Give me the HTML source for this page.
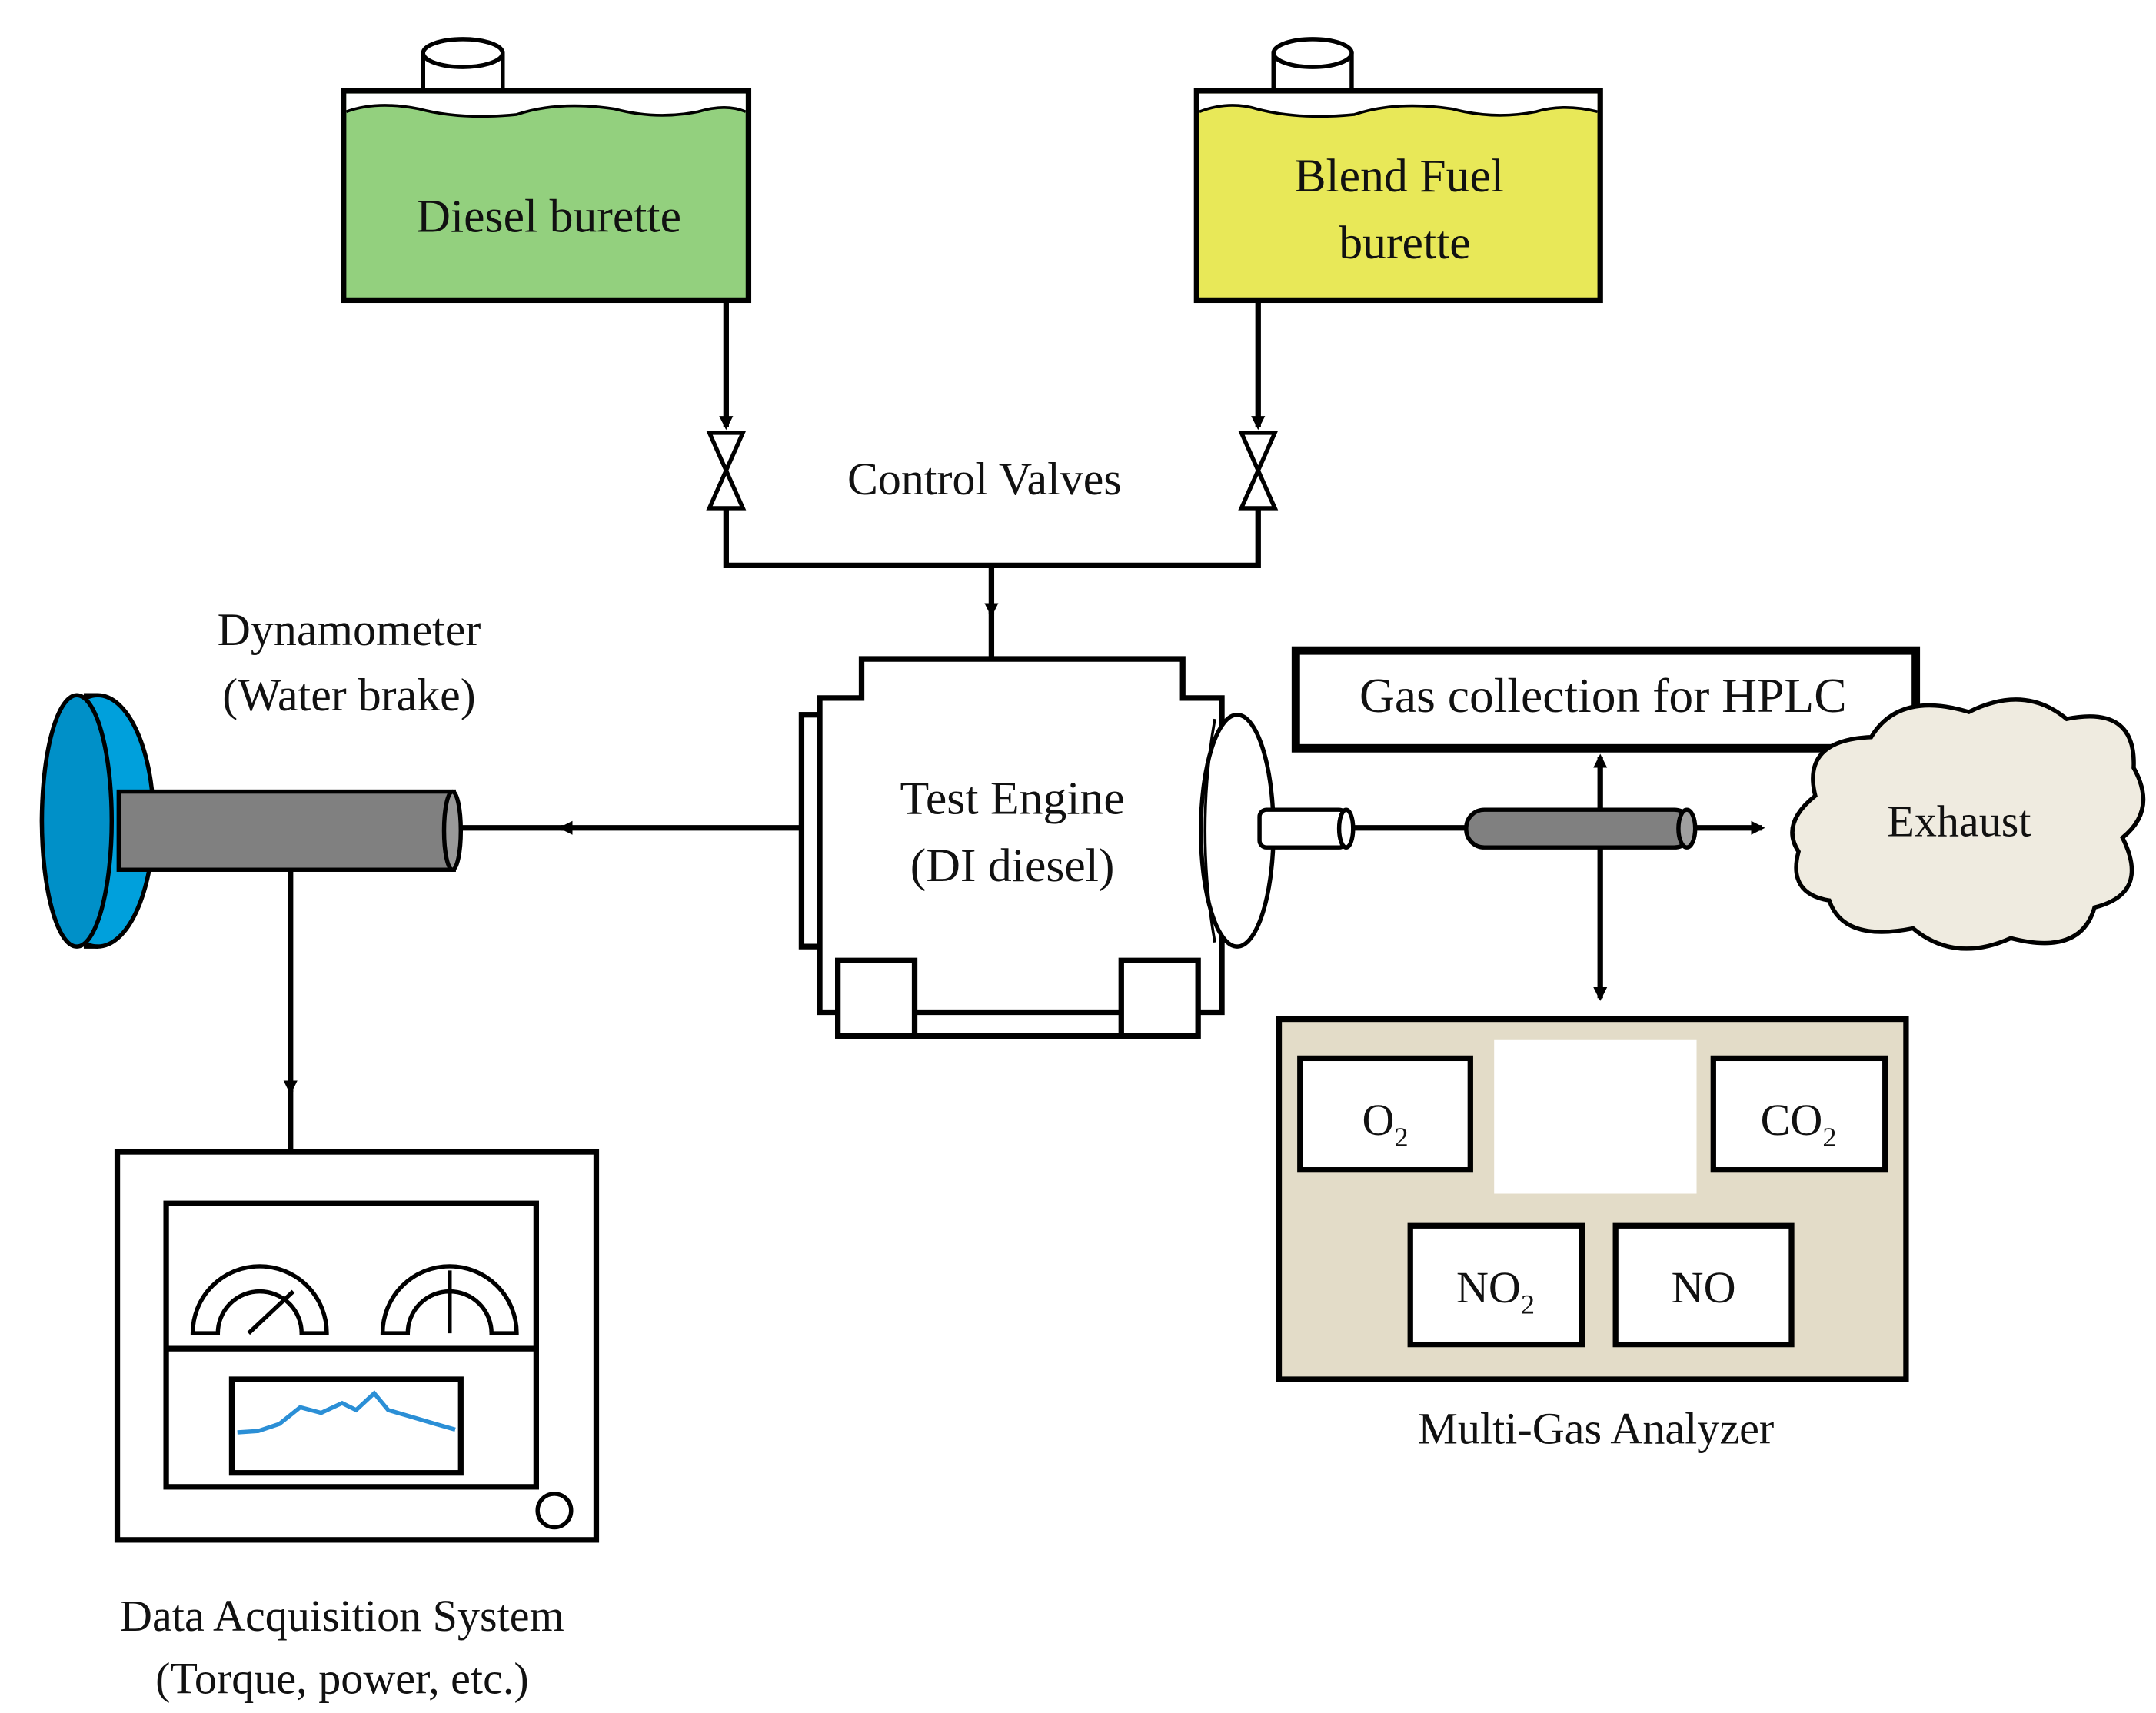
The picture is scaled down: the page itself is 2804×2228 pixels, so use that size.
<!DOCTYPE html>
<html><head><meta charset="utf-8"><style>
html,body{margin:0;padding:0;background:#fff;}
svg{display:block;}
text{font-family:"Liberation Serif",serif;fill:#111;}
</style></head><body>
<svg width="2804" height="2228" viewBox="0 0 1544 1227" preserveAspectRatio="none" xmlns="http://www.w3.org/2000/svg">
<defs>
<marker id="ar" markerWidth="10" markerHeight="10" refX="8" refY="5" orient="auto" markerUnits="userSpaceOnUse"><path d="M0,0 L10,5 L0,10 Z" fill="#000"/></marker>
</defs>
<g stroke="#000" stroke-width="4" fill="none">
<rect x="303" y="38" width="57" height="27" fill="#fff" stroke-width="3"/>
<ellipse cx="331.5" cy="38" rx="28.5" ry="10" fill="#fff" stroke-width="3"/>
<rect x="246" y="65" width="290" height="150" fill="#93d07e"/>
<path d="M248,67 H534 V80 Q520,74 500,80 Q470,86 440,78 Q400,72 370,82 Q330,86 300,78 Q270,72 248,80 Z" fill="#fff" stroke="none"/>
<path d="M248,80 Q270,72 300,78 Q330,86 370,82 Q400,72 440,78 Q470,86 500,80 Q520,74 534,80" stroke-width="2"/>
<rect x="912" y="38" width="56" height="27" fill="#fff" stroke-width="3"/>
<ellipse cx="940" cy="38" rx="28" ry="10" fill="#fff" stroke-width="3"/>
<rect x="857" y="65" width="289" height="150" fill="#e8e858"/>
<path d="M859,67 H1144 V80 Q1120,74 1100,80 Q1070,86 1040,78 Q1000,72 970,82 Q930,86 900,78 Q880,72 859,80 Z" fill="#fff" stroke="none"/>
<path d="M859,80 Q880,72 900,78 Q930,86 970,82 Q1000,72 1040,78 Q1070,86 1100,80 Q1120,74 1144,80" stroke-width="2"/>
<line x1="520" y1="215" x2="520" y2="306" marker-end="url(#ar)"/>
<line x1="901" y1="215" x2="901" y2="306" marker-end="url(#ar)"/>
<path d="M508,310 L532,310 L508,364 L532,364 Z" fill="#fff" stroke-width="3"/>
<path d="M889,310 L913,310 L889,364 L913,364 Z" fill="#fff" stroke-width="3"/>
<path d="M520,365 V405 H901 V365"/>
<line x1="710" y1="405" x2="710" y2="440" marker-end="url(#ar)"/>
<line x1="710" y1="435" x2="710" y2="472"/>
<rect x="574" y="512" width="13" height="166" fill="#fff"/>
<path d="M617,472 H847 V500 H875 V725 H587 V500 H617 Z" fill="#fff"/>
<rect x="600" y="688" width="55" height="54" fill="#fff"/>
<rect x="803" y="688" width="55" height="54" fill="#fff"/>
<line x1="600" y1="742" x2="858" y2="742"/>
<ellipse cx="886" cy="595" rx="26" ry="83" fill="#fff" stroke-width="3"/>
<path d="M870,515 Q856,595 870,675" stroke-width="2"/>
<rect x="902" y="580" width="62" height="27" rx="5" fill="#fff" stroke-width="3"/>
<ellipse cx="964" cy="593.5" rx="5" ry="13.5" fill="#fff" stroke-width="3"/>
<line x1="968" y1="593" x2="1262" y2="593" marker-end="url(#ar)"/>
<rect x="1050" y="580" width="162" height="27" rx="13" fill="#808080" stroke-width="3"/>
<ellipse cx="1208" cy="593.5" rx="6" ry="13.5" fill="#a0a0a0" stroke-width="3"/>
<line x1="1146" y1="580" x2="1146" y2="542" marker-end="url(#ar)"/>
<line x1="1146" y1="607" x2="1146" y2="715" marker-end="url(#ar)"/>
<rect x="928" y="466" width="444" height="70" fill="#fff" stroke-width="6"/>
<path d="M1300,570 Q1290,530 1340,528 Q1360,495 1410,510 Q1450,490 1480,515 Q1530,505 1528,550 Q1545,580 1520,600 Q1540,640 1500,650 Q1490,685 1440,672 Q1400,690 1370,665 Q1320,675 1310,645 Q1280,640 1288,610 Q1275,590 1300,570 Z" fill="#efebe0" stroke-width="3"/>
<line x1="574" y1="593" x2="402" y2="593" marker-end="url(#ar)"/>
<line x1="405" y1="593" x2="330" y2="593"/>
<ellipse cx="70" cy="588" rx="40" ry="90" fill="#00a0dc" stroke-width="3"/>
<path d="M60,498 H70 M60,678 H70" stroke-width="3"/>
<ellipse cx="55" cy="588" rx="25" ry="90" fill="#0090c8" stroke-width="3"/>
<rect x="85" y="567" width="240" height="56" fill="#808080" stroke-width="3"/>
<ellipse cx="324" cy="595" rx="6" ry="28" fill="#999" stroke-width="3"/>
<line x1="208" y1="623" x2="208" y2="782" marker-end="url(#ar)"/>
<line x1="208" y1="778" x2="208" y2="825"/>
<rect x="84" y="825" width="343" height="278" fill="#fff"/>
<rect x="119" y="862" width="265" height="203" fill="#fff"/>
<line x1="119" y1="966" x2="384" y2="966"/>
<path d="M138,955 A48,48 0 0 1 234,955 H216 A30,30 0 0 0 156,955 Z" fill="#fff" stroke-width="3"/>
<line x1="178" y1="955" x2="210" y2="925" stroke-width="3"/>
<path d="M274,955 A48,48 0 0 1 370,955 H352 A30,30 0 0 0 292,955 Z" fill="#fff" stroke-width="3"/>
<line x1="322" y1="955" x2="322" y2="910" stroke-width="3"/>
<rect x="166" y="988" width="164" height="67" fill="#fff"/>
<path d="M170,1026 L185,1025 L200,1020 L215,1008 L230,1012 L245,1005 L255,1010 L268,998 L278,1010 L295,1015 L312,1020 L326,1024" stroke="#2b8fd6" stroke-width="3"/>
<circle cx="397" cy="1082" r="12" fill="#fff" stroke-width="3"/>
<rect x="916" y="730" width="449" height="258" fill="#e3dcc8"/>
<rect x="1070" y="745" width="145" height="110" fill="#fff" stroke="none"/>
<rect x="931" y="758" width="122" height="80" fill="#fff"/>
<rect x="1227" y="758" width="123" height="80" fill="#fff"/>
<rect x="1010" y="878" width="123" height="85" fill="#fff"/>
<rect x="1157" y="878" width="126" height="85" fill="#fff"/>
</g>
<g font-size="34">
<text x="393" y="166" text-anchor="middle">Diesel burette</text>
<text x="1002" y="137" text-anchor="middle">Blend Fuel</text>
<text x="1006" y="185" text-anchor="middle">burette</text>
<text x="705" y="354" text-anchor="middle" font-size="33">Control Valves</text>
<text x="250" y="462" text-anchor="middle" font-size="33">Dynamometer</text>
<text x="250" y="509" text-anchor="middle" font-size="33">(Water brake)</text>
<text x="725" y="583" text-anchor="middle">Test Engine</text>
<text x="725" y="631" text-anchor="middle">(DI diesel)</text>
<text x="1148" y="510" text-anchor="middle" font-size="35">Gas collection for HPLC</text>
<text x="1403" y="599" text-anchor="middle" font-size="32">Exhaust</text>
<text x="992" y="813" text-anchor="middle" font-size="32">O<tspan font-size="20" dy="8">2</tspan></text>
<text x="1288" y="813" text-anchor="middle" font-size="32">CO<tspan font-size="20" dy="8">2</tspan></text>
<text x="1071" y="933" text-anchor="middle" font-size="32">NO<tspan font-size="20" dy="8">2</tspan></text>
<text x="1220" y="933" text-anchor="middle" font-size="32">NO</text>
<text x="1143" y="1034" text-anchor="middle" font-size="32">Multi-Gas Analyzer</text>
<text x="245" y="1168" text-anchor="middle" font-size="32">Data Acquisition System</text>
<text x="245" y="1213" text-anchor="middle" font-size="32">(Torque, power, etc.)</text>
</g>
</svg>
</body></html>
